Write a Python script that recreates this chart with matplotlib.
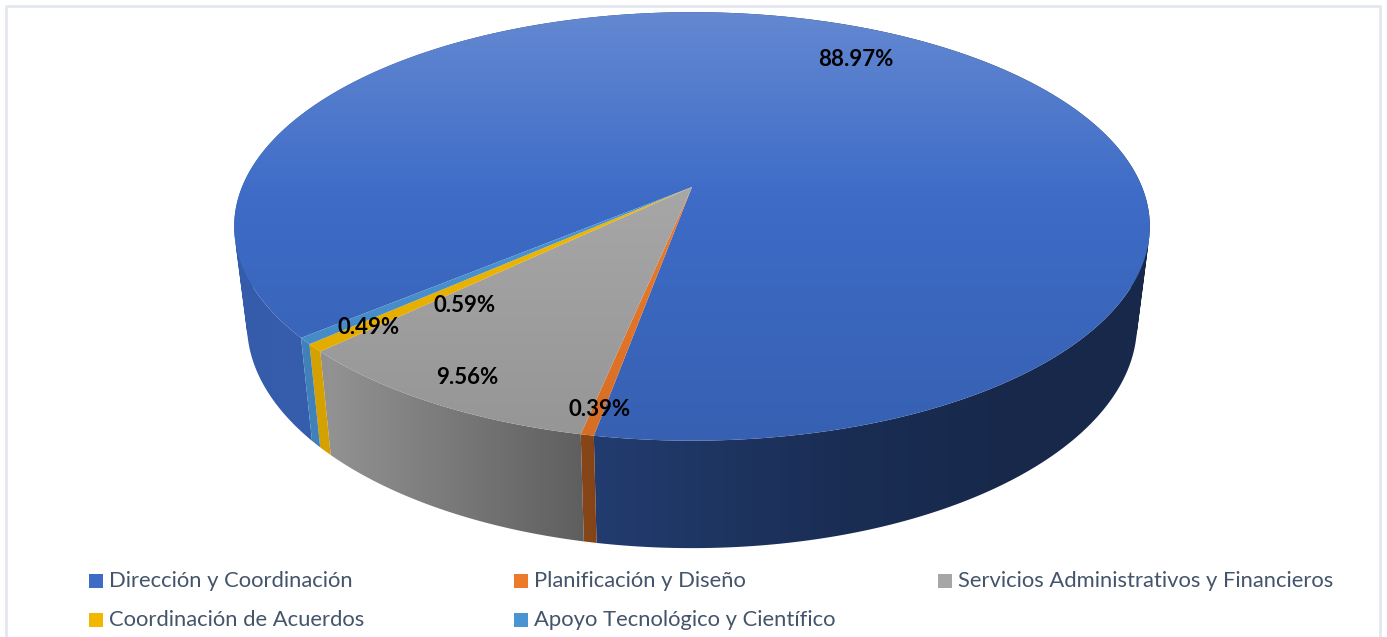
import numpy as np
import matplotlib
matplotlib.use('Agg')
import matplotlib.pyplot as plt
from matplotlib.colors import to_rgb
from matplotlib.patches import PathPatch, Rectangle
from matplotlib.path import Path

# data
categorias = ['Dirección y Coordinación', 'Planificación y Diseño',
              'Servicios Administrativos y Financieros',
              'Coordinación de Acuerdos', 'Apoyo Tecnológico y Científico']
valores = [88.97, 0.39, 9.56, 0.59, 0.49]
etiquetas = ['88.97%', '0.39%', '9.56%', '0.59%', '0.49%']

# styles and positions (pixels of the picture)
colores = ['#3d6bc6', '#ed7a2a', '#a6a6a6', '#f2b800', '#4a94d4']
etiqueta_x = [856, 600, 467, 465, 369]
etiqueta_y = [60, 409, 378, 306, 328]
leyenda_x = [89, 514, 938, 89, 514]
leyenda_y = [574, 574, 574, 613, 613]
inicio = 230.0

# perspective of the top disc, fitted on the picture
CX, CY = 692, 187
A, B, K = 207.0, 450.0, 0.184
ESCALA_X, ESCALA_Y = 0.972, 1.044


def borde_sup(t):
    t = np.radians(t)
    u, v = np.sin(t), np.cos(t)
    return CX + B * u / (1 + K * v), CY - A * v / (1 + K * v)


def borde_inf(t):
    x, y = borde_sup(t)
    return CX + ESCALA_X * (x - CX), 324 + ESCALA_Y * (y - 226)


def sombra(x):
    return np.interp(x, [235, 330, 583, 850, 1000, 1150],
                     [0.86, 0.88, 0.57, 0.42, 0.38, 0.38])


def color_sup(base, y):
    # light from above: whiter up to the middle, then darker
    blanco = np.interp(y, [12, 200], [0.2, 0.0])[:, None]
    osc = np.interp(y, [200, 440], [1.0, 0.9])[:, None]
    return np.clip(np.array(base) * osc * (1 - blanco) + blanco, 0, 1)


def camino_lateral(ts):
    # side wall as many small quads, all turning the same way, so that
    # the part that folds over at the left and right edges stays filled
    x1, y1 = borde_sup(ts)
    x2, y2 = borde_inf(ts)
    paths = []
    for j in range(len(ts) - 1):
        q = np.array([[x1[j], y1[j]], [x1[j + 1], y1[j + 1]],
                      [x2[j + 1], y2[j + 1]], [x2[j], y2[j]]])
        xs, ys = q[:, 0], q[:, 1]
        area = np.sum(xs * np.roll(ys, -1) - np.roll(xs, -1) * ys)
        if area < 0:
            q = q[::-1]
        paths.append(Path(np.vstack([q, q[0]]), closed=True))
    return Path.make_compound_path(*paths)


def pintar(ax, camino, rgb, extent, z):
    # image clipped by a path, so the slice keeps a smooth gradient
    im = ax.imshow(rgb, extent=extent, aspect='auto', zorder=z)
    pol = PathPatch(camino, transform=ax.transData, fc='none', ec='none')
    ax.add_patch(pol)
    im.set_clip_path(pol)


fig = plt.figure(figsize=(13.87, 6.37), dpi=100)
ax = fig.add_axes([0, 0, 1, 1])

# frame of the chart, no bottom edge
ax.plot([5.5, 5.5, 1380, 1380], [637, 5.5, 5.5, 637], color='#e3e7ee', lw=2)

angulos = inicio + np.cumsum([0] + valores) * 3.6
columnas = np.arange(0, 1387)
filas = np.arange(0, 460)

# side wall
for i in range(len(valores)):
    base = np.array(to_rgb(colores[i]))
    ts = np.linspace(angulos[i], angulos[i + 1], max(int(valores[i] * 12), 4))
    rgb = (base[None, :] * sombra(columnas)[:, None])[None, :, :]
    pintar(ax, camino_lateral(ts), rgb, (0, 1387, 637, 0), 2)

# top of the pie
for i in range(len(valores)):
    ts = np.linspace(angulos[i], angulos[i + 1], max(int(valores[i] * 12), 4))
    x, y = borde_sup(ts)
    pts = np.column_stack([np.r_[CX, x, CX], np.r_[CY, y, CY]])
    degradado = color_sup(to_rgb(colores[i]), filas)[:, None, :]
    pintar(ax, Path(pts, closed=True), degradado, (0, 1387, 460, 0), 3)

for i in range(len(etiquetas)):
    ax.text(etiqueta_x[i], etiqueta_y[i], etiquetas[i], ha='center', va='center',
            family='Lato', weight='bold', fontsize=16, color='black', zorder=5)

# legend
for i in range(len(categorias)):
    ax.add_patch(Rectangle((leyenda_x[i], leyenda_y[i]), 14, 14, fc=colores[i], ec='none'))
    ax.text(leyenda_x[i] + 20, leyenda_y[i] + 7, categorias[i], ha='left', va='center',
            family='Lato', fontsize=15.8, color='#44546a')

ax.set_xlim(0, 1387)
ax.set_ylim(637, 0)
ax.axis('off')
fig.savefig('out.png', dpi=100, facecolor='white')
